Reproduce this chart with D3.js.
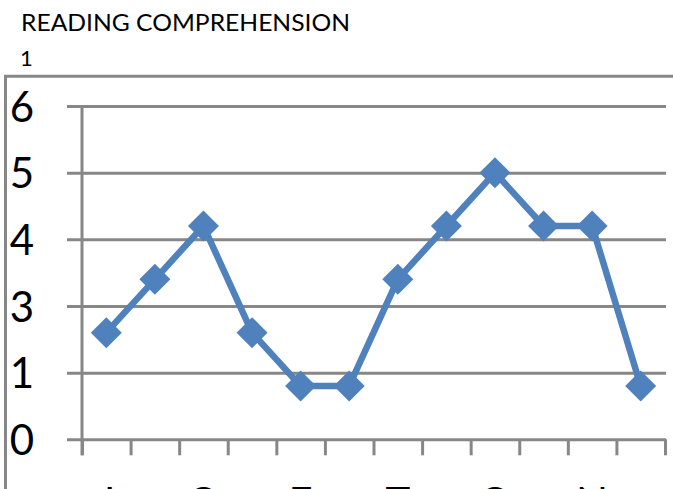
<!DOCTYPE html>
<html>
<head>
<meta charset="utf-8">
<script src="https://cdn.jsdelivr.net/npm/d3@7/dist/d3.min.js"></script>
<style>
  html, body { margin: 0; padding: 0; background: #fff; overflow: hidden; }
  svg { display: block; font-family: Lato, "Open Sans", sans-serif; }
</style>
</head>
<body>
<svg id="chart" width="673" height="489"></svg>
<script>
// Reading comprehension scores for twelve sessions
const categories = ["1","2","3","4","5","6","7","8","9","10","11","12"];
const scores = [1.6, 2.4, 3.2, 1.6, 0.8, 0.8, 2.4, 3.2, 4.0, 3.2, 3.2, 0.8];
// Labels shown beneath every other category
const xTickLabels = ["J", "", "O", "", "E", "", "T", "", "O", "", "N", ""];
// Gridline values and the text printed beside them
const yGridValues = [0, 1, 2, 3, 4, 5];
const yTickLabels = ["0", "1", "3", "4", "5", "6"];
const titleText = "READING COMPREHENSION";
const subTitleText = "1";

const svg = d3.select("#chart");
const gray = "#878787";
const blue = "#4F81BD";

const plot = { left: 82, right: 665, top: 106, bottom: 439.3 };

const x = d3.scaleBand().domain(categories).range([plot.left, plot.right]).padding(0);
const xEdge = d3.scaleLinear().domain([0, categories.length]).range([plot.left, plot.right]);
const y = d3.scaleLinear().domain([0, 5]).range([plot.bottom, plot.top]);

// Outer frame (top and left edges)
svg.append("path")
  .attr("d", `M5.5,489 V76.3 H673`)
  .attr("fill", "none").attr("stroke", gray).attr("stroke-width", 3);

// Title lines
svg.append("text").attr("x", 21).attr("y", 30.5)
  .attr("font-size", 23.5).attr("fill", "#000")
  .attr("textLength", 329).attr("lengthAdjust", "spacingAndGlyphs")
  .text(titleText);
svg.append("text").attr("x", 20).attr("y", 66)
  .attr("font-size", 22).attr("fill", "#000")
  .text(subTitleText);

// Horizontal gridlines with left tick extensions and value labels
const yAxis = d3.axisLeft(y)
  .tickValues(yGridValues)
  .tickSize(plot.right + 1 - 67)
  .tickPadding(33)
  .tickFormat((d, i) => yTickLabels[i]);
const gy = svg.append("g").attr("transform", `translate(${plot.right + 1},0)`).call(yAxis);
gy.select(".domain").remove();
gy.selectAll(".tick line").attr("stroke", gray).attr("stroke-width", 3);
gy.selectAll(".tick text")
  .attr("font-family", "Lato, sans-serif")
  .attr("font-size", 42).attr("fill", "#000")
  .attr("dy", "0.36em");

// Vertical value axis
svg.append("line")
  .attr("x1", plot.left).attr("x2", plot.left)
  .attr("y1", y(5)).attr("y2", y(0) + 16)
  .attr("stroke", gray).attr("stroke-width", 3);

// Category axis: tick marks on band boundaries
const xAxis = d3.axisBottom(xEdge)
  .tickValues(d3.range(categories.length + 1))
  .tickSize(16).tickSizeOuter(0)
  .tickFormat("");
const gx = svg.append("g").attr("transform", `translate(0,${y(0)})`).call(xAxis);
gx.select(".domain").remove();
gx.selectAll(".tick line").attr("stroke", gray).attr("stroke-width", 3);

// Category labels (centred in their bands)
const xLabelAxis = d3.axisBottom(x)
  .tickSize(0).tickPadding(0)
  .tickFormat((d, i) => xTickLabels[i]);
const gxl = svg.append("g").attr("transform", `translate(0,${y(0)})`).call(xLabelAxis);
gxl.select(".domain").remove();
gxl.selectAll(".tick text")
  .attr("font-family", "Lato, sans-serif")
  .attr("font-size", 42).attr("fill", "#000")
  .attr("dy", null).attr("y", 78.5);

// Series line
const line = d3.line()
  .x((d, i) => x(categories[i]) + x.bandwidth() / 2)
  .y(d => y(d));
svg.append("path").datum(scores)
  .attr("d", line)
  .attr("fill", "none").attr("stroke", blue)
  .attr("stroke-width", 6.5).attr("stroke-linejoin", "round");

// Diamond markers
const diamond = d3.symbol().type(d3.symbolSquare).size(480);
svg.append("g").selectAll("path").data(scores).join("path")
  .attr("d", diamond)
  .attr("transform", (d, i) => `translate(${x(categories[i]) + x.bandwidth() / 2},${y(d)}) rotate(45)`)
  .attr("fill", blue);
</script>
</body>
</html>
